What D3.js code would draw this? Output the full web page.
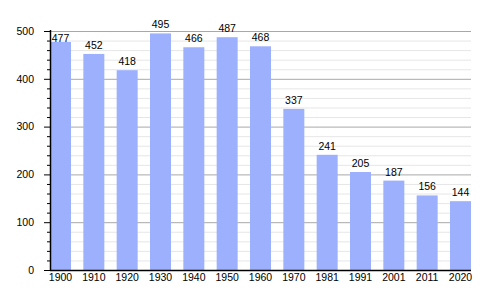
<!DOCTYPE html>
<html>
<head>
<meta charset="utf-8">
<script src="https://cdn.jsdelivr.net/npm/d3@7"></script>
<style>
  body { margin: 0; background: #fff; }
  text { font-family: "Liberation Sans Narrow", "Arial Narrow", sans-serif; font-size: 10.5px; fill: #000; }
</style>
</head>
<body>
<div id="chart"></div>
<script>
// data
var years = ['1900', '1910', '1920', '1930', '1940', '1950', '1960', '1970', '1981', '1991', '2001', '2011', '2020'];
var population = [477, 452, 418, 495, 466, 487, 468, 337, 241, 205, 187, 156, 144];
var yTicks = [0, 100, 200, 300, 400, 500];

var margin = { top: 31, right: 29, bottom: 30, left: 50 };
var width = 500 - margin.left - margin.right;
var height = 300 - margin.top - margin.bottom;
var fontFam = "Liberation Sans Narrow, Arial Narrow, sans-serif";

var svg = d3.select("#chart").append("svg")
    .attr("width", 500)
    .attr("height", 300);

var g = svg.append("g").attr("transform", "translate(" + margin.left + "," + margin.top + ")");

var x = d3.scaleBand().domain(years).range([0, width]).paddingInner(0.37).paddingOuter(0);
var y = d3.scaleLinear().domain([0, 500]).range([height, 0]);

var minor = d3.range(20, 500, 20).filter(function(d) { return d % 100 !== 0; });

// minor grid every 20
g.append("g").selectAll("line")
  .data(minor)
  .enter().append("line")
    .attr("x1", 0).attr("x2", width)
    .attr("y1", function(d) { return y(d) + 0.5; })
    .attr("y2", function(d) { return y(d) + 0.5; })
    .attr("stroke", "#e6e6e6")
    .attr("stroke-width", 1);

// major grid every 100
g.append("g").selectAll("line")
  .data(yTicks.slice(1))
  .enter().append("line")
    .attr("x1", 0).attr("x2", width)
    .attr("y1", function(d) { return y(d) + 0.5; })
    .attr("y2", function(d) { return y(d) + 0.5; })
    .attr("stroke", "#a8a8a8")
    .attr("stroke-width", 1);

// bars
g.selectAll(".bar")
  .data(population)
  .enter().append("rect")
    .attr("class", "bar")
    .attr("x", function(d, i) { return x(years[i]); })
    .attr("y", function(d) { return y(d); })
    .attr("width", x.bandwidth())
    .attr("height", function(d) { return height - y(d); })
    .attr("fill", "#9db0fd");

// value labels; one whose top would land right on the top gridline drops under it
g.selectAll(".val")
  .data(population)
  .enter().append("text")
    .attr("class", "val")
    .attr("text-anchor", "middle")
    .attr("x", function(d, i) { return x(years[i]) + x.bandwidth() / 2; })
    .attr("y", function(d) {
      var base = y(d) - 5;
      if (base > y(500) + 3 && base - 8 < y(500) + 2) base = y(500) + 11;
      return base;
    })
    .text(function(d) { return d; });

// y axis with major and minor ticks
var yaxis = d3.axisLeft(y).tickValues(yTicks).tickSize(6).tickPadding(10);
var gy = g.append("g").call(yaxis);
gy.select(".domain").remove();
gy.selectAll("text").style("font-size", "10.5px").style("font-family", fontFam);

g.append("g").selectAll("line")
  .data(minor)
  .enter().append("line")
    .attr("x1", -3).attr("x2", 0)
    .attr("y1", function(d) { return y(d) + 0.5; })
    .attr("y2", function(d) { return y(d) + 0.5; })
    .attr("stroke", "#000");

g.append("line")
  .attr("x1", 0.5).attr("x2", 0.5)
  .attr("y1", -1).attr("y2", height)
  .attr("stroke", "#000").attr("stroke-width", 1.5);

// x axis
var xaxis = d3.axisBottom(x).tickSize(0).tickPadding(4);
var gx = g.append("g").attr("transform", "translate(0," + height + ")").call(xaxis);
gx.select(".domain").remove();
gx.selectAll("text").style("font-size", "10.5px").style("font-family", fontFam);

g.append("line")
  .attr("x1", 0).attr("x2", width)
  .attr("y1", height + 0.5).attr("y2", height + 0.5)
  .attr("stroke", "#000").attr("stroke-width", 1.5);
</script>
</body>
</html>
